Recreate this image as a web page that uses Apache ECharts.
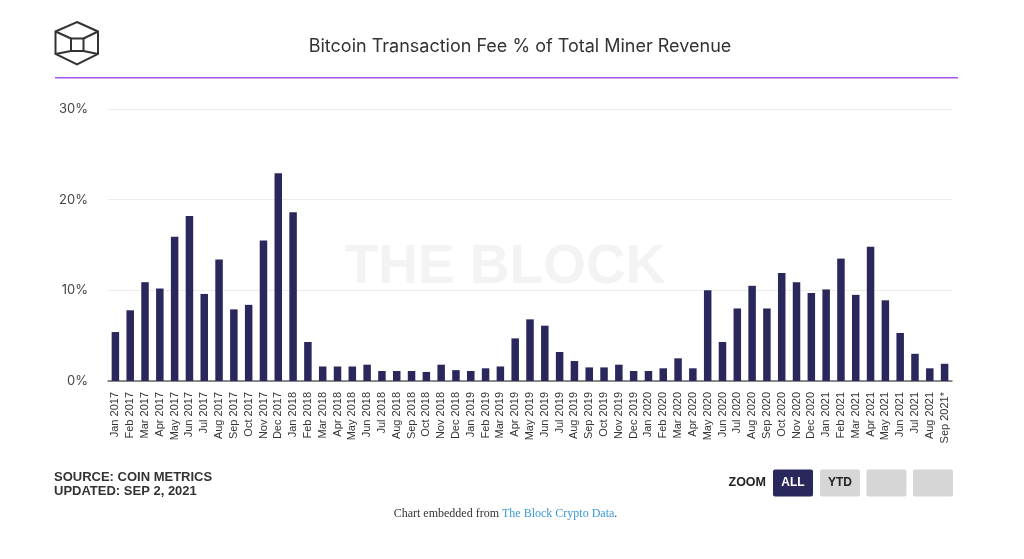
<!DOCTYPE html>
<html>
<head>
<meta charset="utf-8">
<script src="https://cdn.jsdelivr.net/npm/echarts@6/dist/echarts.min.js"></script>
<style>
html,body{margin:0;padding:0;background:#fff;}
#chart{width:1024px;height:559px;}
</style>
</head>
<body>
<div id="chart"></div>
<script>
const categories = [
  'Jan 2017','Feb 2017','Mar 2017','Apr 2017','May 2017','Jun 2017','Jul 2017','Aug 2017','Sep 2017','Oct 2017','Nov 2017','Dec 2017',
  'Jan 2018','Feb 2018','Mar 2018','Apr 2018','May 2018','Jun 2018','Jul 2018','Aug 2018','Sep 2018','Oct 2018','Nov 2018','Dec 2018',
  'Jan 2019','Feb 2019','Mar 2019','Apr 2019','May 2019','Jun 2019','Jul 2019','Aug 2019','Sep 2019','Oct 2019','Nov 2019','Dec 2019',
  'Jan 2020','Feb 2020','Mar 2020','Apr 2020','May 2020','Jun 2020','Jul 2020','Aug 2020','Sep 2020','Oct 2020','Nov 2020','Dec 2020',
  'Jan 2021','Feb 2021','Mar 2021','Apr 2021','May 2021','Jun 2021','Jul 2021','Aug 2021','Sep 2021*'
];
const fees2017 = [5.4, 7.8, 10.9, 10.2, 15.9, 18.2, 9.6, 13.4, 7.9, 8.4, 15.5, 22.9];
const fees2018 = [18.6, 4.3, 1.6, 1.6, 1.6, 1.8, 1.1, 1.1, 1.1, 1.0, 1.8, 1.2];
const fees2019 = [1.1, 1.4, 1.6, 4.7, 6.8, 6.1, 3.2, 2.2, 1.5, 1.5, 1.8, 1.1];
const fees2020 = [1.1, 1.4, 2.5, 1.4, 10.0, 4.3, 8.0, 10.5, 8.0, 11.9, 10.9, 9.7];
const fees2021 = [10.1, 13.5, 9.5, 14.8, 8.9, 5.3, 3.0, 1.4, 1.9];
const feeValues = [].concat(fees2017, fees2018, fees2019, fees2020, fees2021);
const yTicks = [0, 10, 20, 30];

const titleText = 'Bitcoin Transaction Fee % of Total Miner Revenue';
const sourceText = 'SOURCE: COIN METRICS';
const updatedText = 'UPDATED: SEP 2, 2021';
const zoomButtons = ['ALL', 'YTD', '', ''];

const chart = echarts.init(document.getElementById('chart'), null, {renderer: 'canvas'});

const sans = 'Liberation Sans, Arial, sans-serif';
const navy = '#29275c';

const graphics = [
  // logo (cube)
  {type: 'polygon', shape: {points: [[77,22],[98,31.5],[98,54],[77,64.5],[55.5,54],[55.5,31.5]]}, style: {fill: 'none', stroke: '#333', lineWidth: 2}},
  {type: 'rect', shape: {x: 71, y: 38.5, width: 12.5, height: 12.5}, style: {fill: 'none', stroke: '#333', lineWidth: 2}},
  {type: 'polyline', shape: {points: [[55.5,31.5],[71,38.5]]}, style: {stroke: '#333', lineWidth: 2}},
  {type: 'polyline', shape: {points: [[98,31.5],[83.5,38.5]]}, style: {stroke: '#333', lineWidth: 2}},
  {type: 'polyline', shape: {points: [[55.5,54],[71,51]]}, style: {stroke: '#333', lineWidth: 2}},
  {type: 'polyline', shape: {points: [[98,54],[83.5,51]]}, style: {stroke: '#333', lineWidth: 2}},
  // purple rule
  {type: 'rect', shape: {x: 55, y: 77, width: 903, height: 1.5}, style: {fill: '#a455f5'}},
  // watermark
  {type: 'text', z: -1, x: 505, y: 268, style: {text: 'THE BLOCK', fill: '#f3f3f3', font: 'bold 55px ' + sans, textAlign: 'center', textVerticalAlign: 'middle'}},
  // source
  {type: 'text', x: 54, y: 477, style: {text: sourceText, fill: '#333', font: 'bold 13px ' + sans, textAlign: 'left', textVerticalAlign: 'middle'}},
  {type: 'text', x: 54, y: 491, style: {text: updatedText, fill: '#333', font: 'bold 13px ' + sans, textAlign: 'left', textVerticalAlign: 'middle'}},
  // zoom
  {type: 'text', x: 766, y: 483, style: {text: 'ZOOM', fill: '#222', font: 'bold 12.5px ' + sans, textAlign: 'right', textVerticalAlign: 'middle'}},
  // footer
  {type: 'text', x: 505.5, y: 514, style: {
    text: '{a|Chart embedded from }{b|The Block Crypto Data}{a|.}',
    textAlign: 'center', textVerticalAlign: 'middle',
    rich: {
      a: {fill: '#333', fontFamily: 'Liberation Serif, Times New Roman, serif', fontSize: 12},
      b: {fill: '#3a9ad6', fontFamily: 'Liberation Serif, Times New Roman, serif', fontSize: 12}
    }
  }}
];
const btnX = [773, 820, 866.5, 913];
zoomButtons.forEach(function (label, i) {
  graphics.push({type: 'rect', shape: {x: btnX[i], y: 469.5, width: 40, height: 27, r: 2},
    style: {fill: i === 0 ? navy : '#d6d6d6'}});
  if (label) {
    graphics.push({type: 'text', x: btnX[i] + 20, y: 483, style: {text: label, fill: i === 0 ? '#fff' : '#222',
      font: 'bold 12px ' + sans, textAlign: 'center', textVerticalAlign: 'middle'}});
  }
});

chart.setOption({
  animation: false,
  backgroundColor: '#fff',
  title: {
    text: titleText,
    left: 515, top: 33, textAlign: 'center',
    textStyle: {fontFamily: 'Inter, Noto Sans, sans-serif', fontSize: 18, fontWeight: 'normal', color: '#333'}
  },
  grid: {left: 108, right: 72, top: 109, bottom: 178, containLabel: false},
  xAxis: {
    type: 'category',
    data: categories,
    axisLine: {lineStyle: {color: '#666', width: 1.5}},
    axisTick: {show: false},
    axisLabel: {rotate: 90, interval: 0, margin: 11, color: '#333', fontSize: 11, fontFamily: sans}
  },
  yAxis: {
    type: 'value',
    min: yTicks[0], max: yTicks[yTicks.length - 1], interval: 10,
    axisLine: {show: false},
    axisTick: {show: false},
    splitLine: {lineStyle: {color: '#ececec', width: 1}},
    axisLabel: {formatter: '{value}%', margin: 20, color: '#444', fontSize: 13, fontFamily: 'Inter, Noto Sans, sans-serif'}
  },
  series: [{
    type: 'bar',
    data: feeValues,
    barWidth: 7.5,
    itemStyle: {color: navy}
  }],
  graphic: graphics
});
</script>
</body>
</html>
